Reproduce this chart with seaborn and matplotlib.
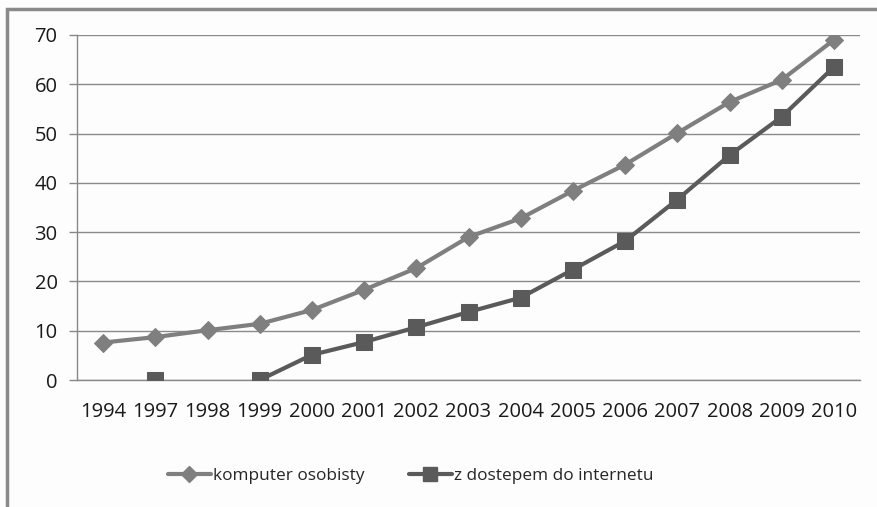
import numpy as np
import pandas as pd
import matplotlib.pyplot as plt
import seaborn as sns
from matplotlib.lines import Line2D
from matplotlib.patches import Rectangle

# data
years = ["1994", "1997", "1998", "1999", "2000", "2001", "2002", "2003",
         "2004", "2005", "2006", "2007", "2008", "2009", "2010"]
komputer = [7.6, 8.7, 10.1, 11.4, 14.2, 18.3, 22.7, 29.0, 32.8, 38.4,
            43.7, 50.1, 56.4, 60.9, 69.0]
internet = [np.nan, 0.0, np.nan, 0.0, 5.1, 7.7, 10.7, 13.8, 16.7, 22.4,
            28.2, 36.6, 45.6, 53.4, 63.5]
labels = ["komputer osobisty", "z dostepem do internetu"]

c_light = "#7f7f7f"
c_dark = "#5a5a5a"


def segments(values, name):
    s = pd.Series(values, dtype=float)
    seg = s.isna().cumsum()
    df = pd.DataFrame({"pos": np.arange(len(s)), "val": s, "seg": seg, "series": name})
    return df.dropna()


sns.set_style("white")
plt.rcParams["font.family"] = ["Open Sans", "DejaVu Sans"]

fig = plt.figure(figsize=(8.77, 5.07), dpi=100)
fig.patch.set_facecolor("#fdfdfd")
ax = fig.add_axes([77 / 877, 1 - 380 / 507, (860 - 77) / 877, (380 - 35) / 507])
ax.set_facecolor("#fdfdfd")

d1 = segments(komputer, labels[0])
d2 = segments(internet, labels[1])

sns.lineplot(data=d1, x="pos", y="val", units="seg", estimator=None, ax=ax,
             color=c_light, linewidth=3, marker="D", markersize=9.5,
             markeredgecolor=c_light, zorder=3, legend=False)
sns.lineplot(data=d2, x="pos", y="val", units="seg", estimator=None, ax=ax,
             color=c_dark, linewidth=3, marker="s", markersize=12,
             markeredgecolor=c_dark, zorder=4, legend=False)

ax.set_xlim(-0.5, len(years) - 0.5)
ax.set_ylim(0, 70)
ax.set_yticks(range(0, 71, 10))
ax.set_xticks(range(len(years)))
ax.set_xticklabels(years)
ax.set_xticks(np.arange(-0.5, len(years), 1), minor=True)
ax.tick_params(axis="x", which="major", length=0, pad=16, labelsize=14.5, colors="#1a1a1a")
ax.tick_params(axis="x", which="minor", length=6, width=1, color="#888888", direction="out")
ax.tick_params(axis="y", which="major", length=6, width=1, color="#888888",
               direction="out", labelsize=14.5, pad=8, labelcolor="#1a1a1a", left=True)
ax.set_xlabel("")
ax.set_ylabel("")

ax.yaxis.grid(True, color="#8a8a8a", linewidth=1)
ax.set_axisbelow(True)
for side in ["top", "right"]:
    ax.spines[side].set_visible(False)
ax.spines["left"].set_color("#888888")
ax.spines["bottom"].set_color("#888888")
ax.spines["left"].set_linewidth(1)
ax.spines["bottom"].set_linewidth(1)

handles = [
    Line2D([], [], color=c_light, linewidth=3, marker="D", markersize=8, markeredgecolor=c_light),
    Line2D([], [], color=c_dark, linewidth=3, marker="s", markersize=10, markeredgecolor=c_dark),
]
fig.legend(handles, labels, loc="center", bbox_to_anchor=(0.468, 1 - 476 / 507),
           ncol=2, frameon=False, fontsize=12.4, handlelength=2.5,
           columnspacing=2.6, handletextpad=0.1)

# outer chart border (cropped at right and bottom)
fig.add_artist(Rectangle((7 / 877, -0.1), 1.2, 1 - 9 / 507 + 0.1, transform=fig.transFigure,
                         fill=False, edgecolor="#8a8a8a", linewidth=2.5))

fig.savefig("out.png", dpi=100, facecolor=fig.get_facecolor())
